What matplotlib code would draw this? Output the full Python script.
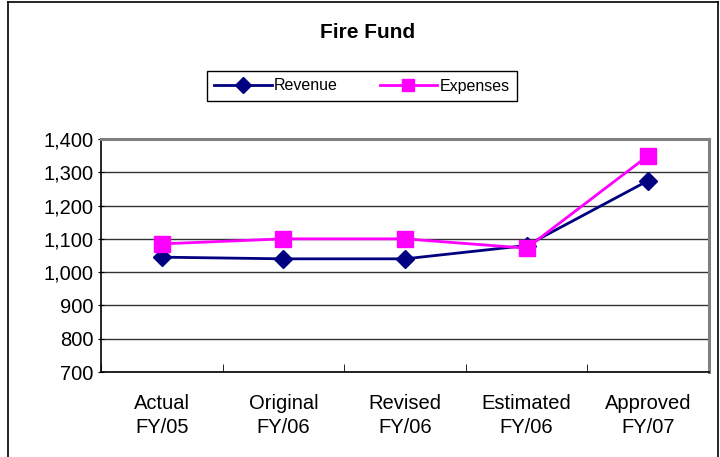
import matplotlib.pyplot as plt
from matplotlib.lines import Line2D

plt.rcParams['font.family'] = ['Liberation Sans', 'DejaVu Sans']

# Data
categories = ['Actual\nFY/05', 'Original\nFY/06', 'Revised\nFY/06', 'Estimated\nFY/06', 'Approved\nFY/07']
revenue = [1045, 1040, 1040, 1080, 1275]
expenses = [1085, 1100, 1100, 1072, 1350]
y_ticks = [700, 800, 900, 1000, 1100, 1200, 1300, 1400]

fig = plt.figure(figsize=(7.2, 4.57), dpi=100)
ax = fig.add_axes([101 / 720, 1 - 372 / 457, 608 / 720, 233 / 457])

x = list(range(len(categories)))
ax.plot(x, revenue, color='#000080', lw=2, marker='D', ms=9, label='Revenue', zorder=3)
ax.plot(x, expenses, color='#FF00FF', lw=2, marker='s', ms=11, label='Expenses', zorder=3)

ax.set_xlim(-0.5, 4.5)
ax.set_ylim(700, 1400)
ax.set_yticks(y_ticks)
ax.set_yticklabels([f'{v:,}' for v in y_ticks], fontsize=14.5)
ax.set_xticks(x)
ax.set_xticklabels(categories, fontsize=14.5, linespacing=1.35)
ax.tick_params(axis='x', length=0, pad=16)
ax.set_xticks([i - 0.5 for i in range(len(categories) + 1)], minor=True)
ax.tick_params(axis='x', which='minor', length=6, direction='in', color='black')
ax.tick_params(axis='y', length=5, direction='inout', pad=3)

ax.grid(axis='y', color='#333333', lw=1)
ax.set_axisbelow(True)
for s in ['left', 'bottom']:
    ax.spines[s].set_color('black')
    ax.spines[s].set_linewidth(1.2)
for s in ['top', 'right']:
    ax.spines[s].set_color('#808080')
    ax.spines[s].set_linewidth(2.2)

fig.text(368 / 720, 1 - 32 / 457, 'Fire Fund', ha='center', va='center',
         fontsize=15, fontweight='bold')

handles = [Line2D([], [], color='#000080', lw=2, marker='D', ms=8),
           Line2D([], [], color='#FF00FF', lw=2, marker='s', ms=9)]
leg = fig.legend(handles, ['Revenue', 'Expenses'], loc='center',
                 bbox_to_anchor=(362 / 720, 1 - 86 / 457), ncol=2, fontsize=11.5,
                 frameon=True, fancybox=False, edgecolor='black', framealpha=1,
                 handlelength=3.6, handletextpad=0.15, columnspacing=2.6,
                 borderpad=0.45, borderaxespad=0)
leg.get_frame().set_linewidth(1)

# outer chart border
fig.add_artist(Line2D([8 / 720, 8 / 720], [0, 1 - 2 / 457], color='black', lw=1.2,
                      transform=fig.transFigure))
fig.add_artist(Line2D([8 / 720, 718 / 720], [1 - 2 / 457, 1 - 2 / 457], color='black', lw=1.2,
                      transform=fig.transFigure))
fig.add_artist(Line2D([718 / 720, 718 / 720], [0, 1 - 2 / 457], color='black', lw=1.2,
                      transform=fig.transFigure))

fig.savefig('out.png', dpi=100)
